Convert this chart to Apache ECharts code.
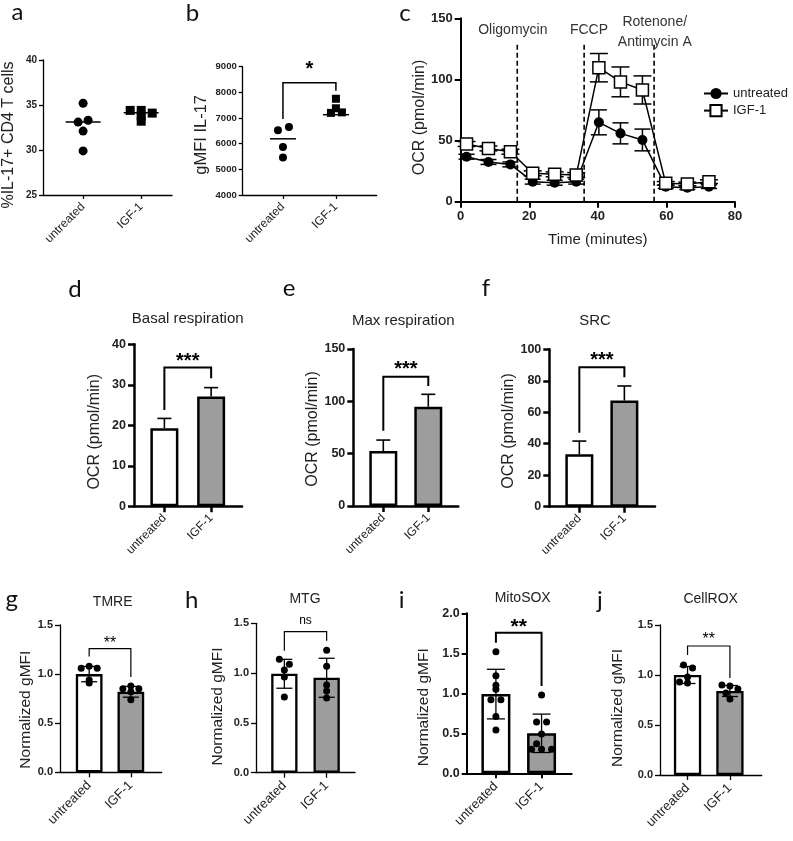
<!DOCTYPE html>
<html><head><meta charset="utf-8">
<script src="https://cdn.jsdelivr.net/npm/echarts@6/dist/echarts.min.js"></script>
<style>html,body{margin:0;padding:0;background:#fff}#main{width:793px;height:841px}</style>
</head><body><div id="main"></div>
<script>
// ---------------- DATA ----------------
const categories = ['untreated', 'IGF-1'];

// a: %IL-17+ CD4 T cells
const aUntreated = [35.2, 33.3, 33.1, 32.1, 29.9];
const aIGF1 = [34.4, 34.4, 34.1, 33.8, 33.2];
const aMeans = [33.1, 34.15];

// b: gMFI IL-17
const bUntreated = [6520, 6650, 5870, 5460];
const bIGF1 = [7750, 7380, 7200, 7220];
const bMeans = [6190, 7130];
const bBracket = [8370, 6960, 8065]; // top, left end, right end

// c: Seahorse OCR time course
const cTime = [1.7, 8.1, 14.5, 21.0, 27.4, 33.7, 40.3, 46.6, 53.0, 59.8, 66.1, 72.4];
const cUntreated = [36.8, 32.5, 30.5, 16.4, 15.5, 16.4, 64.9, 55.9, 50.5, 12.3, 11.5, 12.3];
const cUntreatedErr = [2, 2, 2, 2, 2, 2, 10.2, 8.6, 8.9, 1.5, 1.5, 1.5];
const cIGF1 = [47.2, 43.6, 40.9, 23.2, 22.4, 21.8, 109.6, 98.0, 91.4, 15.0, 14.5, 16.4];
const cIGF1Err = [2, 2, 2, 2, 2, 2, 11.6, 12.2, 11.5, 1.5, 1.5, 1.5];
const cInjections = [16.5, 36.0, 56.4];
const cInjectionTop = 129;
const cInjectionLabels = ['Oligomycin', 'FCCP', 'Rotenone/\nAntimycin A'];
const cLabelX = [15.2, 37.4, 56.6];
const cLabelY = [140, 140, 139];

// d-f: mean + SEM bars
const dMeans = [19.3, 27.1], dErr = [2.4, 2.2], dBracket = [34.3, 23.8, 31.6];
const eMeans = [52.5, 94.8], eErr = [10.5, 11.9], eBracket = [123.5, 72, 114.6];
const fMeans = [33.3, 67.4], fErr = [8.4, 9.3], fBracket = [88.6, 47, 82.2];

// g: TMRE
const gMeans = [1.0, 0.82], gSD = [0.078, 0.055];
const gUntreated = [1.08, 1.06, 1.06, 0.94, 0.91];
const gIGF1 = [0.88, 0.85, 0.85, 0.82, 0.74];
const gBracket = [1.26, 1.18, 0.97];
// h: MTG
const hMeans = [0.993, 0.953], hSD = [0.145, 0.196];
const hUntreated = [1.14, 1.09, 1.03, 0.96, 0.76];
const hIGF1 = [1.23, 1.07, 0.88, 0.82, 0.75];
const hBracket = [1.416, 1.225, 1.326];
// i: MitoSOX
const iMeans = [0.99, 0.50], iSD = [0.31, 0.24];
const iUntreated = [1.52, 1.22, 1.10, 1.05, 0.92, 0.92, 0.71, 0.54];
const iIGF1 = [0.98, 0.64, 0.64, 0.49, 0.37, 0.30, 0.30, 0.30];
const iBracket = [1.758, 1.633, 1.09];
// j: CellROX
const jMeans = [1.0, 0.84], jSD = [0.085, 0.055];
const jUntreated = [1.10, 1.07, 0.98, 0.93, 0.92];
const jIGF1 = [0.90, 0.89, 0.86, 0.82, 0.76];
const jBracket = [1.29, 1.2, 0.97];

// ---------------- STYLE / LAYOUT ----------------
const GRAY = '#9d9d9d';
const FONT = '"Liberation Sans", Arial, sans-serif';
const grids = [], xAxes = [], yAxes = [], series = [], graphics = [];

function catAxes(p) {
  const i = grids.length;
  grids.push({left: p.box[0], top: p.box[1], width: p.box[2], height: p.box[3]});
  xAxes.push({
    type: 'value', gridIndex: i, min: p.xRange[0], max: p.xRange[1],
    splitLine: {show: false},
    axisLine: {show: true, onZero: false, lineStyle: {color: '#000', width: p.axisW}},
    axisTick: {show: true, customValues: [0, 1], length: p.tickLen, lineStyle: {color: '#000', width: p.axisW}},
    axisLabel: {show: true, customValues: [0, 1], formatter: v => categories[Math.round(v)], rotate: 45,
      margin: p.xMargin, fontSize: p.xFont, fontFamily: FONT, color: '#222'}
  });
  yAxes.push({
    type: 'value', gridIndex: i, min: p.y[0], max: p.y[1], interval: p.y[2],
    name: p.yName, nameLocation: 'middle', nameRotate: 90, nameGap: p.nameGap,
    nameTextStyle: {fontSize: p.nameFont, fontFamily: FONT, color: '#222', padding: [0, p.nameShift || 0, 0, 0]},
    splitLine: {show: false},
    axisLine: {show: true, onZero: false, lineStyle: {color: '#000', width: p.axisW}},
    axisTick: {show: true, length: p.tickLen, lineStyle: {color: '#000', width: p.axisW}},
    axisLabel: {margin: p.yMargin, fontSize: p.yFont, fontWeight: 'bold', fontFamily: FONT, color: '#222',
      formatter: p.yFmt || (v => String(v))}
  });
  return i;
}

function dots(i, k, values, jitter, symbol, size) {
  return {type: 'scatter', xAxisIndex: i, yAxisIndex: i, symbol, symbolSize: size, silent: true, z: 4,
    itemStyle: {color: '#000', opacity: 1},
    data: values.map((v, j) => ({value: [k, v], symbolOffset: [jitter[j] || 0, 0]}))};
}

function errBars(i, xs, means, errs, opt) {
  return {type: 'custom', xAxisIndex: i, yAxisIndex: i, silent: true, z: opt.z || 3,
    data: means.map((m, k) => [xs[k], m, errs[k]]),
    renderItem: (params, api) => {
      const x = api.value(0), m = api.value(1), e = api.value(2);
      const t = api.coord([x, m + e]), b = api.coord([x, opt.twoSided ? m - e : m]);
      const w = opt.cap / 2, st = {stroke: '#000', lineWidth: opt.lw};
      const ch = [
        {type: 'line', shape: {x1: t[0], y1: t[1], x2: b[0], y2: b[1]}, style: st},
        {type: 'line', shape: {x1: t[0] - w, y1: t[1], x2: t[0] + w, y2: t[1]}, style: st}
      ];
      if (opt.twoSided) ch.push({type: 'line', shape: {x1: b[0] - w, y1: b[1], x2: b[0] + w, y2: b[1]}, style: st});
      return {type: 'group', children: ch};
    }};
}

function meanLines(i, means, halfW, lw) {
  return {type: 'custom', xAxisIndex: i, yAxisIndex: i, silent: true, z: 3,
    data: means.map((m, k) => [k, m]),
    renderItem: (params, api) => {
      const c = api.coord([api.value(0), api.value(1)]);
      return {type: 'line', shape: {x1: c[0] - halfW, y1: c[1], x2: c[0] + halfW, y2: c[1]},
        style: {stroke: '#000', lineWidth: lw}};
    }};
}

function bracket(i, br, label, opt) {
  return {type: 'custom', xAxisIndex: i, yAxisIndex: i, silent: true, z: 5,
    data: [[0, 1, br[0], br[1], br[2]]],
    renderItem: (params, api) => {
      const x0 = api.value(0), x1 = api.value(1), top = api.value(2);
      const p1 = api.coord([x0, api.value(3)]), p2 = api.coord([x0, top]);
      const p3 = api.coord([x1, top]), p4 = api.coord([x1, api.value(4)]);
      return {type: 'group', children: [
        {type: 'polyline', shape: {points: [p1, p2, p3, p4]}, style: {stroke: '#000', lineWidth: opt.lw, fill: null}},
        {type: 'text', x: (p2[0] + p3[0]) / 2, y: p2[1] - opt.dy,
          style: {text: label, font: opt.font, fill: '#000', textAlign: 'center', textVerticalAlign: 'middle'}}
      ]};
    }};
}

function bars(i, means, width, border) {
  return {type: 'bar', xAxisIndex: i, yAxisIndex: i, barWidth: width, silent: true, z: 2,
    itemStyle: {borderColor: '#000', borderWidth: border},
    data: means.map((m, k) => ({value: [k, m], itemStyle: {color: k === 0 ? '#fff' : GRAY}}))};
}

// ---- panel a ----
{
  const i = catAxes({box: [43, 60, 129, 135], xRange: [-0.69, 1.53], y: [25, 40, 5],
    yName: '%IL-17+ CD4 T cells', nameGap: 26, nameFont: 16, nameShift: 15,
    axisW: 1.3, tickLen: 4, yMargin: 6, yFont: 10, xFont: 12, xMargin: 10});
  series.push(meanLines(i, aMeans, 17.5, 1.5));
  series.push(dots(i, 0, aUntreated, [0, 5, -5, 0, 0], 'circle', 9));
  series.push(dots(i, 1, aIGF1, [-11, 0, 11, 0, 0], 'rect', 9));
}
// ---- panel b ----
{
  const i = catAxes({box: [242.7, 66.7, 134, 128.3], xRange: [-0.76, 1.77], y: [4000, 9000, 1000],
    yName: 'gMFI IL-17', nameGap: 33, nameFont: 16.5, nameShift: 8,
    axisW: 1.3, tickLen: 4, yMargin: 6, yFont: 9.5, xFont: 12, xMargin: 10});
  series.push(meanLines(i, bMeans, 13, 1.5));
  series.push(dots(i, 0, bUntreated, [-5, 6, 0, 0], 'circle', 8));
  series.push(dots(i, 1, bIGF1, [0, 0, -5, 6], 'rect', 8));
  series.push(bracket(i, bBracket, '*', {lw: 1.5, dy: 13, font: 'bold 20px ' + FONT}));
}
// ---- panel c ----
{
  const ci = grids.length;
  grids.push({left: 460.7, top: 18.3, width: 274.3, height: 183.4});
  xAxes.push({type: 'value', gridIndex: ci, min: 0, max: 80, interval: 20,
    name: 'Time (minutes)', nameLocation: 'middle', nameGap: 31,
    nameTextStyle: {fontSize: 15, fontFamily: FONT, color: '#222'},
    splitLine: {show: false},
    axisLine: {onZero: false, lineStyle: {color: '#000', width: 2}},
    axisTick: {length: 6, lineStyle: {color: '#000', width: 2}},
    axisLabel: {fontSize: 13, fontWeight: 'bold', fontFamily: FONT, color: '#222', margin: 8}});
  yAxes.push({type: 'value', gridIndex: ci, min: 0, max: 150, interval: 50,
    name: 'OCR (pmol/min)', nameLocation: 'middle', nameRotate: 90, nameGap: 33,
    nameTextStyle: {fontSize: 16, fontFamily: FONT, color: '#222', padding: [0, 15, 0, 0]},
    splitLine: {show: false},
    axisLine: {onZero: false, lineStyle: {color: '#000', width: 2}},
    axisTick: {length: 6, lineStyle: {color: '#000', width: 2}},
    axisLabel: {fontSize: 13, fontWeight: 'bold', fontFamily: FONT, color: '#222', margin: 8}});
  series.push({type: 'custom', xAxisIndex: ci, yAxisIndex: ci, silent: true, z: 1,
    data: cInjections.map(t => [t, cInjectionTop]),
    renderItem: (p, api) => {
      const a = api.coord([api.value(0), 0]), b = api.coord([api.value(0), api.value(1)]);
      return {type: 'line', shape: {x1: a[0], y1: a[1], x2: b[0], y2: b[1]},
        style: {stroke: '#000', lineWidth: 1.6, lineDash: [5, 3]}};
    }});
  series.push({type: 'custom', xAxisIndex: ci, yAxisIndex: ci, silent: true, z: 1,
    data: cInjectionLabels.map((s, k) => [cLabelX[k], cLabelY[k], k]),
    renderItem: (p, api) => {
      const c = api.coord([api.value(0), api.value(1)]);
      return {type: 'text', x: c[0], y: c[1],
        style: {text: cInjectionLabels[api.value(2)], font: '14px ' + FONT, fill: '#333',
          textAlign: 'center', textVerticalAlign: 'middle', lineHeight: 20}};
    }});
  series.push(errBars(ci, cTime, cUntreated, cUntreatedErr, {twoSided: true, cap: 16, lw: 1.5, z: 2}));
  series.push(errBars(ci, cTime, cIGF1, cIGF1Err, {twoSided: true, cap: 18, lw: 1.5, z: 2}));
  series.push({type: 'line', name: 'untreated', xAxisIndex: ci, yAxisIndex: ci, silent: true, z: 3,
    data: cTime.map((t, k) => [t, cUntreated[k]]), symbol: 'circle', symbolSize: 10,
    itemStyle: {color: '#000'}, lineStyle: {color: '#000', width: 1.5}});
  series.push({type: 'line', name: 'IGF-1', xAxisIndex: ci, yAxisIndex: ci, silent: true, z: 4,
    data: cTime.map((t, k) => [t, cIGF1[k]]), symbol: 'rect', symbolSize: 12,
    itemStyle: {color: '#fff', borderColor: '#000', borderWidth: 1.5}, lineStyle: {color: '#000', width: 1.5}});
}
// ---- panels d, e, f ----
const dfCommon = {axisW: 2.5, tickLen: 6, yMargin: 8, yFont: 12.5, xFont: 12, xMargin: 10,
  yName: 'OCR (pmol/min)', nameFont: 16};
{
  const i = catAxes(Object.assign({}, dfCommon, {box: [134, 344.3, 108, 162], xRange: [-0.65, 1.66],
    y: [0, 40, 10], nameGap: 31, nameShift: 13}));
  series.push(bars(i, dMeans, 28, 2.5));
  series.push(errBars(i, [0, 1], dMeans, dErr, {twoSided: false, cap: 14, lw: 1.6}));
  series.push(bracket(i, dBracket, '***', {lw: 2, dy: 6, font: 'bold 20px ' + FONT}));
}
{
  const i = catAxes(Object.assign({}, dfCommon, {box: [353.3, 349, 105, 157], xRange: [-0.667, 1.667],
    y: [0, 150, 50], nameGap: 33, nameShift: 3}));
  series.push(bars(i, eMeans, 28, 2.5));
  series.push(errBars(i, [0, 1], eMeans, eErr, {twoSided: false, cap: 14, lw: 1.6}));
  series.push(bracket(i, eBracket, '***', {lw: 2, dy: 7.5, font: 'bold 20px ' + FONT}));
}
{
  const i = catAxes(Object.assign({}, dfCommon, {box: [549.3, 349.3, 105.7, 157.4], xRange: [-0.667, 1.68],
    y: [0, 100, 20], nameGap: 29, nameShift: 6}));
  series.push(bars(i, fMeans, 28, 2.5));
  series.push(errBars(i, [0, 1], fMeans, fErr, {twoSided: false, cap: 14, lw: 1.6}));
  series.push(bracket(i, fBracket, '***', {lw: 2, dy: 6.5, font: 'bold 20px ' + FONT}));
}
// ---- panels g, h, i, j ----
const fmt1 = v => v.toFixed(1);
const ghCommon = {axisW: 1.3, tickLen: 5, yMargin: 7, yFont: 11, xFont: 13, xMargin: 11,
  yName: 'Normalized gMFI', nameFont: 15.5, y: [0, 1.5, 0.5], yFmt: fmt1};
{
  const i = catAxes(Object.assign({}, ghCommon, {box: [60, 625, 101.7, 147.3], xRange: [-0.70, 1.74],
    nameGap: 25, nameShift: 22}));
  series.push(bars(i, gMeans, 26.7, 2.3));
  series.push(errBars(i, [0, 1], gMeans, gSD, {twoSided: true, cap: 16, lw: 1.3}));
  series.push(dots(i, 0, gUntreated, [0, -8, 8, 0, 0], 'circle', 7));
  series.push(dots(i, 1, gIGF1, [0, -8, 8, 0, 0], 'circle', 7));
  series.push(bracket(i, gBracket, '**', {lw: 1.2, dy: 5, font: '16px ' + FONT}));
}
{
  const i = catAxes(Object.assign({}, ghCommon, {box: [256, 623.3, 99, 149.4], xRange: [-0.67, 1.67],
    nameGap: 30.5, nameShift: 17}));
  series.push(bars(i, hMeans, 26.3, 2.3));
  series.push(errBars(i, [0, 1], hMeans, hSD, {twoSided: true, cap: 16, lw: 1.3}));
  series.push(dots(i, 0, hUntreated, [-5, 5, 0, 0, 0], 'circle', 7));
  series.push(dots(i, 1, hIGF1, [0, 0, 0, 0, 0], 'circle', 7));
  series.push(bracket(i, hBracket, 'ns', {lw: 1.2, dy: 11, font: '12px ' + FONT}));
}
{
  const i = catAxes(Object.assign({}, ghCommon, {box: [466.7, 613.3, 105, 160], xRange: [-0.64, 1.66],
    y: [0, 2, 0.5], axisW: 2, yFont: 12.5, nameGap: 34.5, nameShift: 28}));
  series.push(bars(i, iMeans, 29, 2.5));
  series.push(errBars(i, [0, 1], iMeans, iSD, {twoSided: true, cap: 18, lw: 1.3}));
  series.push(dots(i, 0, iUntreated, [0, 0, 0, 0, -5, 5, 0, 0], 'circle', 7));
  series.push(dots(i, 1, iIGF1, [0, -5, 5, 0, -5, -10, 0, 10], 'circle', 7));
  series.push(bracket(i, iBracket, '**', {lw: 2, dy: 5, font: 'bold 21px ' + FONT}));
}
{
  const i = catAxes(Object.assign({}, ghCommon, {box: [660, 625, 101.7, 150], xRange: [-0.65, 1.75],
    nameGap: 34.5, nameShift: 16}));
  series.push(bars(i, jMeans, 27.3, 2.3));
  series.push(errBars(i, [0, 1], jMeans, jSD, {twoSided: true, cap: 16, lw: 1.3}));
  series.push(dots(i, 0, jUntreated, [-4, 5, 0, -8, 0], 'circle', 7));
  series.push(dots(i, 1, jIGF1, [-8, 0, 8, -4, 0], 'circle', 7));
  series.push(bracket(i, jBracket, '**', {lw: 1.2, dy: 6, font: '16px ' + FONT}));
}

// ---- panel letters and titles ----
const letters = [['a', 17.5, 12.5], ['b', 192.5, 13.3], ['c', 405, 13], ['d', 75, 289], ['e', 289, 288],
  ['f', 486, 288.3], ['g', 11.7, 599.5], ['h', 191.7, 600], ['i', 401.7, 600], ['j', 600, 600]];
letters.forEach(([t, x, y]) => graphics.push({type: 'text', x, y, silent: true,
  style: {text: t, font: '24px Lato, "Open Sans", sans-serif', fill: '#111', textAlign: 'center', textVerticalAlign: 'middle'}}));
const titles = [['Basal respiration', 187.7, 319, 15], ['Max respiration', 403.3, 320.7, 15], ['SRC', 595, 320.7, 15],
  ['TMRE', 112.7, 601.7, 14], ['MTG', 305, 599.3, 14], ['MitoSOX', 522.7, 598.3, 14], ['CellROX', 710.7, 599.3, 14]];
titles.forEach(([t, x, y, s]) => graphics.push({type: 'text', x, y, silent: true,
  style: {text: t, font: s + 'px ' + FONT, fill: '#222', textAlign: 'center', textVerticalAlign: 'middle'}}));

const chart = echarts.init(document.getElementById('main'), null, {renderer: 'canvas'});
chart.setOption({
  animation: false,
  backgroundColor: '#fff',
  grid: grids, xAxis: xAxes, yAxis: yAxes, series,
  legend: {data: ['untreated', 'IGF-1'], orient: 'vertical', left: 698, top: 82, itemWidth: 24, itemHeight: 14,
    itemGap: 4, selectedMode: false, textStyle: {fontSize: 13, fontFamily: FONT, color: '#222'}},
  graphic: graphics
});
</script>
</body></html>
